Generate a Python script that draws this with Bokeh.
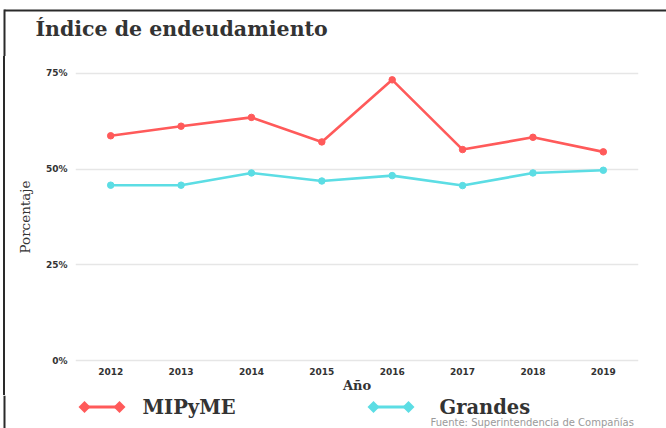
from bokeh.plotting import figure
from bokeh.layouts import column, row
from bokeh.models import Range1d, FixedTicker, PrintfTickFormatter
from bokeh.core.properties import value
from bokeh.embed import file_html
from bokeh.resources import INLINE
import math

# ---- data ----
years = [2012, 2013, 2014, 2015, 2016, 2017, 2018, 2019]
mipyme = [58.7, 61.2, 63.5, 57.1, 73.3, 55.1, 58.3, 54.5]
grandes = [45.8, 45.8, 49.0, 46.9, 48.3, 45.7, 49.0, 49.7]
y_ticks = [0, 25, 50, 75]
series_names = ["MIPyME", "Grandes"]
title_text = "Índice de endeudamiento"
x_title = "Año"
y_title = "Porcentaje"
source_text = "Fuente: Superintendencia de Compañías"

RED = "#ff5a5a"
CYAN = "#5cdde4"
TXT = "#333333"
FRAME = "#2a2a2a"

W = 666
HEAD_H = 56      # page y 0..56
MAIN_H = 339     # page y 56..395
FOOT_H = 33      # page y 395..428


def blank(width, height):
    f = figure(width=width, height=height, output_backend="svg", toolbar_location=None,
               x_axis_type=None, y_axis_type=None, min_border=0,
               x_range=Range1d(0, width), y_range=Range1d(height, 0))
    f.outline_line_color = None
    f.grid.visible = False
    f.background_fill_color = "white"
    f.border_fill_color = "white"
    return f


# ---- header: page frame lines + title ----
head = blank(W, HEAD_H)
head.quad(left=[4], right=[W], top=[9], bottom=[11], fill_color=FRAME, line_color=None)
head.quad(left=[3], right=[5], top=[9], bottom=[HEAD_H], fill_color=FRAME, line_color=None)
head.text(x=[35], y=[28], text=[title_text], text_font=value("DejaVu Serif"),
          text_font_style="bold", text_font_size="20.5px", text_color=TXT,
          text_baseline="middle")

# ---- main chart (page frame line drawn by the element's CSS background) ----
p = figure(width=W, height=MAIN_H, output_backend="svg", toolbar_location=None,
           x_range=Range1d(2011.5, 2019.5), y_range=Range1d(-1, 76),
           min_border_left=75, min_border_right=28, min_border_top=13, min_border_bottom=30,
           styles={"background": "linear-gradient(to right, #ffffff 3px, %s 3px, %s 5px, #ffffff 5px)"
                                 % (FRAME, FRAME)})
p.outline_line_color = None
p.background_fill_color = "white"
p.border_fill_color = None

p.xaxis.ticker = FixedTicker(ticks=years)
p.yaxis.ticker = FixedTicker(ticks=y_ticks)
p.yaxis.formatter = PrintfTickFormatter(format="%d%%")
for ax in (p.xaxis[0], p.yaxis[0]):
    ax.axis_line_color = None
    ax.major_tick_line_color = None
    ax.minor_tick_line_color = None
    ax.major_tick_out = 0
    ax.major_tick_in = 0
    ax.minor_tick_out = 0
    ax.minor_tick_in = 0
    ax.major_label_text_font = "DejaVu Sans"
    ax.major_label_text_font_style = "bold"
    ax.major_label_text_font_size = "9px"
    ax.major_label_text_color = TXT
p.xaxis.major_label_standoff = 3
p.yaxis.major_label_standoff = 8
p.xaxis.axis_label = x_title
p.xaxis.axis_label_text_font = "DejaVu Serif"
p.xaxis.axis_label_text_font_style = "bold"
p.xaxis.axis_label_text_font_size = "13px"
p.xaxis.axis_label_text_color = TXT
p.xaxis.axis_label_standoff = 0
p.yaxis.axis_label = y_title
p.yaxis.axis_label_text_font = "DejaVu Serif"
p.yaxis.axis_label_text_font_style = "normal"
p.yaxis.axis_label_text_font_size = "13.5px"
p.yaxis.axis_label_text_color = TXT
p.yaxis.axis_label_standoff = 10

p.xgrid.grid_line_color = None
p.ygrid.ticker = FixedTicker(ticks=y_ticks)
p.ygrid.grid_line_color = "#e6e6e6"
p.ygrid.grid_line_width = 1.5

for vals, col in ((mipyme, RED), (grandes, CYAN)):
    p.line(years, vals, line_color=col, line_width=2.6)
    p.scatter(years, vals, size=6.5, fill_color=col, line_color=col)

# ---- footer: legend and source ----
foot = blank(W, FOOT_H)
foot.quad(left=[3], right=[5], top=[0], bottom=[FOOT_H], fill_color=FRAME, line_color=None)

LY = 11.5
leg_x1 = [84, 373]
leg_x2 = [119, 408]
leg_tx = [142, 439]
leg_col = [RED, CYAN]
foot.segment(x0=leg_x1, y0=[LY, LY], x1=leg_x2, y1=[LY, LY], line_color=leg_col, line_width=3)
foot.scatter(x=leg_x1 + leg_x2, y=[LY] * 4, marker="square", angle=math.pi / 4, size=8.5,
             fill_color=leg_col + leg_col, line_color=None)
foot.text(x=leg_tx, y=[LY, LY], text=series_names, text_font=value("DejaVu Serif"),
          text_font_style="bold", text_font_size="19.5px", text_color=TXT,
          text_baseline="middle")
foot.text(x=[430], y=[32], text=[source_text], text_font=value("DejaVu Sans"),
          text_font_size="10px", text_color="#9a9a9a", text_baseline="bottom")

# wrapping the chart in a row keeps the column from aligning the plot frames
layout = column(head, row(p, spacing=0), foot, spacing=0)
open("out.html", "w").write(file_html(layout, INLINE))
